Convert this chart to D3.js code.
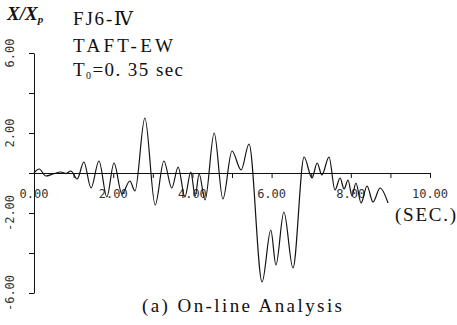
<!DOCTYPE html>
<html>
<head>
<meta charset="utf-8">
<script src="https://cdn.jsdelivr.net/npm/d3@7"></script>
<style>
  html, body { margin: 0; padding: 0; background: #fff; }
  svg { display: block; }
</style>
</head>
<body>
<svg id="chart" width="457" height="325"></svg>
<script>
// ---- data ----
const timeSec = [0, 0.13, 0.30, 0.48, 0.68, 0.81, 0.93, 1.09, 1.26, 1.44, 1.64, 1.84, 2.02, 2.22, 2.42, 2.55,
  2.80, 3.06, 3.28, 3.48, 3.64, 3.81, 3.96, 4.07, 4.17, 4.32, 4.55, 4.77, 5.00, 5.23, 5.43,
  5.76, 5.98, 6.11, 6.31, 6.54, 6.82, 7.02, 7.15, 7.27, 7.45, 7.60, 7.73, 7.83, 7.93, 8.03,
  8.13, 8.26, 8.41, 8.56, 8.74, 8.94];
const ratio = [0, 0.20, -0.15, -0.05, 0.05, -0.03, 0.10, -0.30, 0.55, -0.75, 0.60, -1.20, 0.50, -1.05, -0.40, -0.90,
  2.75, -1.60, 0.60, -0.75, 0.30, -1.20, 0.05, -1.15, -0.05, -1.35, 2.00, -1.30, 1.10, 0.15, 1.45,
  -5.45, -2.85, -4.60, -1.95, -4.75, 0.80, -0.25, 0.50, -0.10, 0.80, -0.85, -0.25, -0.80, -0.35, -1.15,
  -0.50, -1.50, -0.65, -1.45, -0.75, -1.50];
const xTickValues = [0,1,2,3,4,5,6,7,8,9,10];
const xLabelValues = [0,2,4,6,8,10];
const xTickLabels = ["0.00","2.00","4.00","6.00","8.00","10.00"];
const yTickValues = [-6,-4,-2,0,2,4,6];
const yLabelValues = [6,2,-2,-6];
const yTickLabels = ["6.00","2.00","-2.00","-6.00"];

const svg = d3.select("#chart");
const x = d3.scaleLinear().domain([0, 10]).range([34, 430]);
const y = d3.scaleLinear().domain([-6, 6]).range([293, 53]);

const ink = "#111";
const labelFont = "'DejaVu Sans Mono', monospace";
const serif = "'Liberation Serif', 'DejaVu Serif', serif";

// y axis
const gy = svg.append("g")
  .attr("transform", `translate(${x(0)},0)`)
  .call(d3.axisLeft(y).tickValues(yTickValues).tickSize(5).tickSizeOuter(0).tickFormat(""));
gy.selectAll("path, line").attr("stroke", ink);

// x axis (through zero)
const gx = svg.append("g")
  .attr("transform", `translate(0,${y(0)})`)
  .call(d3.axisBottom(x).tickValues(xTickValues).tickSize(5).tickSizeOuter(0).tickFormat(""));
gx.selectAll("path, line").attr("stroke", ink);

// y labels (rotated)
svg.append("g").selectAll("text")
  .data(yLabelValues)
  .join("text")
  .attr("transform", d => `translate(14,${y(d)}) rotate(-90)`)
  .attr("text-anchor", "middle")
  .attr("font-family", labelFont)
  .attr("font-size", 12)
  .attr("fill", "#333")
  .text((d, i) => yTickLabels[i]);

// x labels
svg.append("g").selectAll("text")
  .data(xLabelValues)
  .join("text")
  .attr("x", d => x(d))
  .attr("y", 198)
  .attr("text-anchor", "middle")
  .attr("font-family", labelFont)
  .attr("font-size", 12)
  .attr("fill", "#333")
  .text((d, i) => xTickLabels[i]);

// response curve
const pts = timeSec.map((t, i) => ({ t, v: ratio[i] }));
svg.append("path")
  .datum(pts)
  .attr("fill", "none")
  .attr("stroke", ink)
  .attr("stroke-width", 1.2)
  .attr("d", d3.line().x(d => x(d.t)).y(d => y(d.v)).curve(d3.curveMonotoneX));

// Y-axis title X/Xp
const yt = svg.append("text")
  .attr("x", 7).attr("y", 20)
  .attr("font-family", serif)
  .attr("font-style", "italic")
  .attr("font-weight", "bold")
  .attr("font-size", 19)
  .attr("fill", ink);
yt.append("tspan").text("X/X");
yt.append("tspan").attr("font-size", 11).attr("dy", 3).text("p");

// annotation lines
svg.append("text")
  .attr("x", 73).attr("y", 25)
  .attr("font-family", serif).attr("font-size", 19).attr("fill", ink)
  .attr("textLength", 60).attr("lengthAdjust", "spacing")
  .text("FJ6-Ⅳ");
svg.append("text")
  .attr("x", 73).attr("y", 52)
  .attr("font-family", serif).attr("font-size", 19).attr("fill", ink)
  .attr("textLength", 100).attr("lengthAdjust", "spacing")
  .text("TAFT-EW");
const t0 = svg.append("text")
  .attr("x", 73).attr("y", 76)
  .attr("font-family", serif).attr("font-size", 19).attr("fill", ink)
  .attr("textLength", 110).attr("lengthAdjust", "spacing");
t0.append("tspan").text("T");
t0.append("tspan").attr("font-size", 10).attr("dy", 3).text("0");
t0.append("tspan").attr("dy", -3).text("=0. 35 sec");

// x-axis unit
svg.append("text")
  .attr("x", 395).attr("y", 221)
  .attr("font-family", serif).attr("font-size", 19).attr("fill", ink)
  .attr("textLength", 61).attr("lengthAdjust", "spacing")
  .text("(SEC.)");

// caption
svg.append("text")
  .attr("x", 142).attr("y", 312)
  .attr("font-family", serif).attr("font-size", 19).attr("fill", ink)
  .attr("textLength", 200).attr("lengthAdjust", "spacing")
  .text("(a) On-line Analysis");
</script>
</body>
</html>
